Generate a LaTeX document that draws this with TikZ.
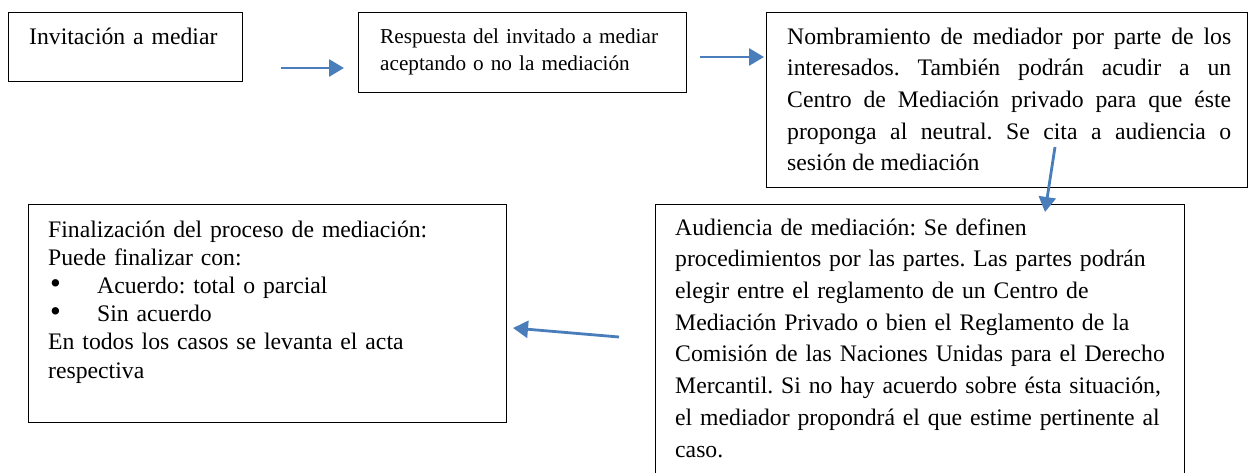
\documentclass[tikz,border=0pt]{standalone}
\usepackage{fontspec}
\setmainfont{Liberation Serif}
\usetikzlibrary{arrows.meta}
\definecolor{arrowblue}{HTML}{4A7EBB}
\frenchspacing
\begin{document}
\begin{tikzpicture}[x=1pt,y=-1pt,
  box/.style={draw=black, line width=1pt, inner sep=0pt, anchor=north west},
  txt/.style={inner sep=0pt, anchor=base west, align=left},
  bigfont/.style={font=\fontsize{23.7}{31.72}\selectfont},
  arr/.style={draw=arrowblue, line width=2.8pt, -{Triangle[length=15pt,width=17pt]}}]
\useasboundingbox (0,0) rectangle (1248,472);
\fill[white] (0,0) rectangle (1248,472);

% boxes
\node[box, minimum width=234pt, minimum height=69pt] (b1) at (8,12) {};
\node[box, minimum width=328pt, minimum height=80pt] (b2) at (358,12) {};
\node[box, minimum width=481pt, minimum height=175pt] (b3) at (766,12) {};
\node[box, minimum width=529pt, minimum height=276pt] (b4) at (655,204) {};
\node[box, minimum width=478pt, minimum height=218pt] (b5) at (28,204) {};

% texts
\node[txt, text width=200pt, font=\fontsize{23.7}{28}\selectfont] (t1) at (29,44) {Invitación a mediar};

\node[txt, text width=300pt, font=\fontsize{21.2}{27}\selectfont] (t2) at (380,43)
  {Respuesta del invitado a mediar\\aceptando o no la mediación};

\node[txt, text width=444pt, align=justify, bigfont] (t3) at (787,44)
  {\tolerance=10000\hbadness=10000 Nombramiento de mediador por parte de los\linebreak
   interesados. También podrán acudir a un\linebreak
   Centro de Mediación privado para que éste\linebreak
   proponga al neutral. Se cita a audiencia o\linebreak
   sesión de mediación};

\node[txt, text width=505pt, bigfont] (t4) at (675,235)
  {Audiencia de mediación: Se definen\\
   procedimientos por las partes. Las partes podrán\\
   elegir entre el reglamento de un Centro de\\
   Mediación Privado o bien el Reglamento de la\\
   Comisión de las Naciones Unidas para el Derecho\\
   Mercantil. Si no hay acuerdo sobre ésta situación,\\
   el mediador propondrá el que estime pertinente al\\
   caso.};

\node[txt, text width=450pt, font=\fontsize{23.7}{28.2}\selectfont] (t5) at (48,237)
  {Finalización del proceso de mediación:\\
   Puede finalizar con:\\
   \hspace*{2pt}\makebox[47pt][l]{\scalebox{1.3}{•}}Acuerdo: total o parcial\\
   \hspace*{2pt}\makebox[47pt][l]{\scalebox{1.3}{•}}Sin acuerdo\\
   En todos los casos se levanta el acta\\
   respectiva};

% connectors
\coordinate (a1s) at (281,68);  \coordinate (a1e) at (344,68);
\coordinate (a2s) at (700,57);  \coordinate (a2e) at (764,57);
\coordinate (a3s) at (1055,147); \coordinate (a3e) at (1045,212);
\coordinate (a4s) at (619,337); \coordinate (a4e) at (513,328);
\draw[arr] (a1s) -- (a1e);
\draw[arr] (a2s) -- (a2e);
\draw[arr] (a3s) -- (a3e);
\draw[arr] (a4s) -- (a4e);
\end{tikzpicture}
\end{document}
